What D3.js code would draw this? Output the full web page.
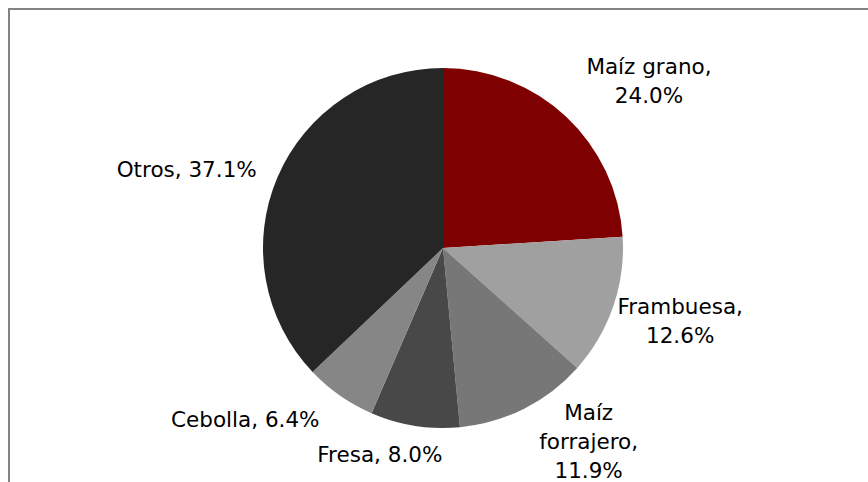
<!DOCTYPE html>
<html lang="es">
<head>
<meta charset="UTF-8">
<title>Pie</title>
<script src="https://d3js.org/d3.v7.min.js"></script>
<style>
  body { margin: 0; background: #fff; }
  text { font-family: "DejaVu Sans", sans-serif; font-size: 21.5px; fill: #000; }
</style>
</head>
<body>
<div id="chart"></div>
<script>
// data
var categories = ['Maíz grano', 'Frambuesa', 'Maíz forrajero', 'Fresa', 'Cebolla', 'Otros'];
var shares = [24.0, 12.6, 11.9, 8.0, 6.4, 37.1];
var colors = ['#7f0000', '#a0a0a0', '#777777', '#484848', '#868686', '#262626'];
// label text, one array of lines per slice
var labelLines = [
  ['Maíz grano,', '24.0%'],
  ['Frambuesa,', '12.6%'],
  ['Maíz', 'forrajero,', '11.9%'],
  ['Fresa, 8.0%'],
  ['Cebolla, 6.4%'],
  ['Otros, 37.1%']
];
// label placement: angle (deg, clockwise from top) and distance from centre
var labelAngle = [51, 107, 143, 197, 229, 287];
var labelDist = [265, 248, 242, 216, 262, 268];

var w = 868, h = 482;
var cx = 443, cy = 248, r = 180;

var svg = d3.select('#chart').append('svg')
  .attr('width', w)
  .attr('height', h);

// chart frame (right and bottom run off the page)
svg.append('rect')
  .attr('x', 9).attr('y', 9)
  .attr('width', w + 20).attr('height', h + 20)
  .attr('fill', 'none')
  .attr('stroke', '#828282')
  .attr('stroke-width', 2);

var pie = d3.pie().sort(null).value(function (d) { return d; });
var arc = d3.arc().innerRadius(0).outerRadius(r);

var g = svg.append('g').attr('transform', 'translate(' + cx + ',' + cy + ')');

g.selectAll('path')
  .data(pie(shares))
  .enter()
  .append('path')
  .attr('d', arc)
  .attr('fill', function (d, i) { return colors[i]; });

var lineH = 29;
var labels = g.selectAll('text.lbl')
  .data(labelLines)
  .enter()
  .append('text')
  .attr('class', 'lbl')
  .attr('text-anchor', 'middle')
  .attr('transform', function (d, i) {
    var a = labelAngle[i] * Math.PI / 180;
    var x = Math.sin(a) * labelDist[i];
    var y = -Math.cos(a) * labelDist[i];
    return 'translate(' + x + ',' + (y - (d.length - 1) * lineH / 2) + ')';
  });

labels.selectAll('tspan')
  .data(function (d) { return d; })
  .enter()
  .append('tspan')
  .attr('x', 0)
  .attr('dy', function (d, j) { return j === 0 ? '0.35em' : lineH; })
  .text(function (d) { return d; });
</script>
</body>
</html>
